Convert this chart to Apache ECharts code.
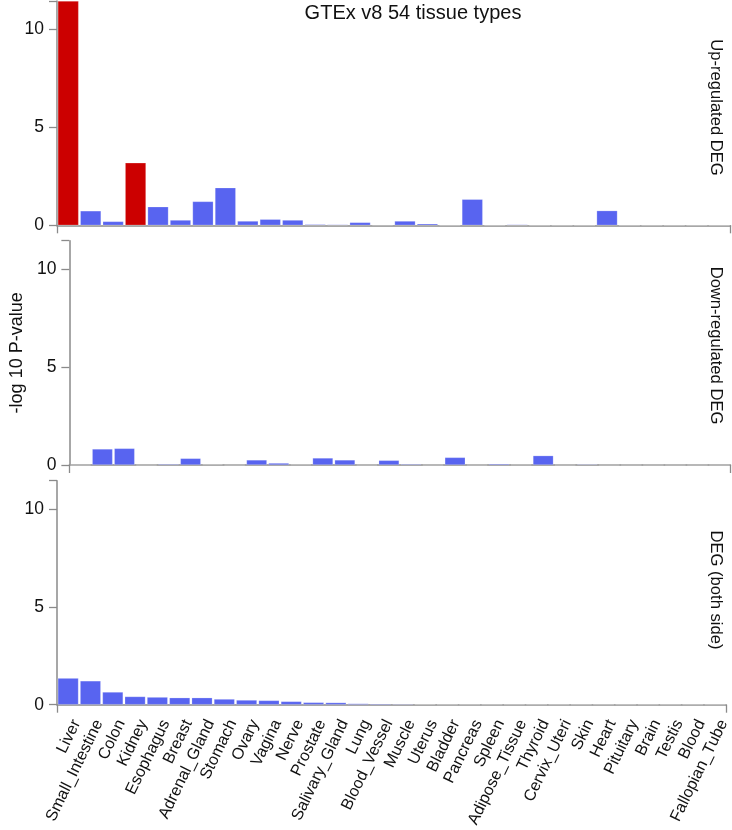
<!DOCTYPE html>
<html><head><meta charset="utf-8">
<script src="https://cdn.jsdelivr.net/npm/echarts@6/dist/echarts.min.js"></script>
<style>html,body{margin:0;padding:0;background:#fff}#c{width:732px;height:830px}</style>
</head><body><div id="c"></div>
<script>
const categories = ['Liver','Small_Intestine','Colon','Kidney','Esophagus','Breast','Adrenal_Gland','Stomach','Ovary','Vagina','Nerve','Prostate','Salivary_Gland','Lung','Blood_Vessel','Muscle','Uterus','Bladder','Pancreas','Spleen','Adipose_Tissue','Thyroid','Cervix_Uteri','Skin','Heart','Pituitary','Brain','Testis','Blood','Fallopian_Tube'];
const upValues   = [11.45,0.74,0.2,3.19,0.95,0.27,1.22,1.92,0.22,0.31,0.27,0.05,0.04,0.15,0.02,0.22,0.08,0,1.33,0,0.04,0,0,0,0.75,0,0,0,0,0];
const downValues = [0,0.82,0.85,0,0.05,0.34,0.03,0,0.26,0.1,0.02,0.36,0.26,0,0.24,0.05,0,0.39,0,0.06,0.01,0.48,0,0.04,0,0,0,0,0,0];
const bothValues = [1.36,1.22,0.65,0.42,0.39,0.36,0.36,0.29,0.24,0.22,0.17,0.12,0.11,0.06,0.05,0.04,0.01,0,0,0,0,0,0,0,0,0,0,0,0,0];
const upHighlight = ['Liver','Kidney'];
const yTickValues = [0,5,10];
const yMax = 11.45;
const panelLabels = ['Up-regulated DEG','Down-regulated DEG','DEG (both side)'];
const titleText = 'GTEx v8 54 tissue types';
const yName = '-log 10 P-value';

const BLUE = '#5864F0', RED = '#CC0000', AXIS = '#8a8a8a';
const FONT = 'Liberation Sans, Arial, Helvetica, sans-serif';
const panelTops = [1, 240.7, 480.7];
const panelH = 224.3;
const seriesData = [upValues, downValues, bothValues];

const grid = [], xAxis = [], yAxis = [], series = [], graphic = [];
panelTops.forEach((t, i) => {
  grid.push({left: 57, right: 1.5, top: t, height: panelH, containLabel: false});
  xAxis.push({
    type: 'category', gridIndex: i, data: categories, position: 'bottom',
    axisLine: {lineStyle: {color: AXIS, width: 1.5}},
    axisTick: {alignWithLabel: true, length: 8, lineStyle: {color: AXIS, width: 1.3}},
    axisLabel: {show: i === 2, interval: 0, rotate: 64, fontSize: 16.2, color: '#111', fontFamily: FONT,
      margin: 12, verticalAlign: 'top', padding: [1.4, 0, 0, 0]},
    splitLine: {show: false}
  });
  yAxis.push({
    type: 'value', gridIndex: i, min: 0, max: yMax, interval: 5,
    name: i === 1 ? yName : '', nameLocation: 'middle', nameGap: 43,
    nameTextStyle: {fontSize: 18, color: '#111', fontFamily: FONT},
    axisLine: {show: true, lineStyle: {color: AXIS, width: 1.5}},
    axisTick: {show: true, length: 8, lineStyle: {color: AXIS, width: 1.3}},
    axisLabel: {fontSize: 17.5, color: '#111', fontFamily: FONT, margin: 13, showMaxLabel: true,
      formatter: v => yTickValues.includes(v) ? String(v) : ''},
    splitLine: {show: false}
  });
  series.push({
    type: 'bar', xAxisIndex: i, yAxisIndex: i, barCategoryGap: '7%',
    data: seriesData[i].map((v, k) => ({
      value: v,
      itemStyle: {color: (i === 0 && upHighlight.includes(categories[k])) ? RED : BLUE}
    })),
    itemStyle: {borderColor: 'rgba(255,255,255,0.35)', borderWidth: 0.6},
    animation: false, silent: true
  });
});
// extra end ticks on x axes
panelTops.forEach((t, i) => {
  xAxis.push({
    type: 'value', gridIndex: i, min: 0, max: 1, interval: 1, position: 'bottom',
    axisLine: {show: false}, axisLabel: {show: false}, splitLine: {show: false},
    axisTick: {show: true, length: 8, lineStyle: {color: AXIS, width: 1.3}}
  });
});
graphic.push({type: 'text', x: 413, y: 13, style: {text: titleText, font: '20px ' + FONT, fill: '#111', align: 'center', verticalAlign: 'middle'}});
const labelY = [107.5, 345.5, 590];
panelLabels.forEach((s, i) => {
  graphic.push({type: 'text', x: 716, y: labelY[i], rotation: -Math.PI / 2,
    style: {text: s, font: '16.6px ' + FONT, fill: '#111', align: 'center', verticalAlign: 'middle'}});
});

const chart = echarts.init(document.getElementById('c'), null, {renderer: 'canvas'});
chart.setOption({animation: false, backgroundColor: '#fff', grid, xAxis, yAxis, series, graphic});
</script>
</body></html>
